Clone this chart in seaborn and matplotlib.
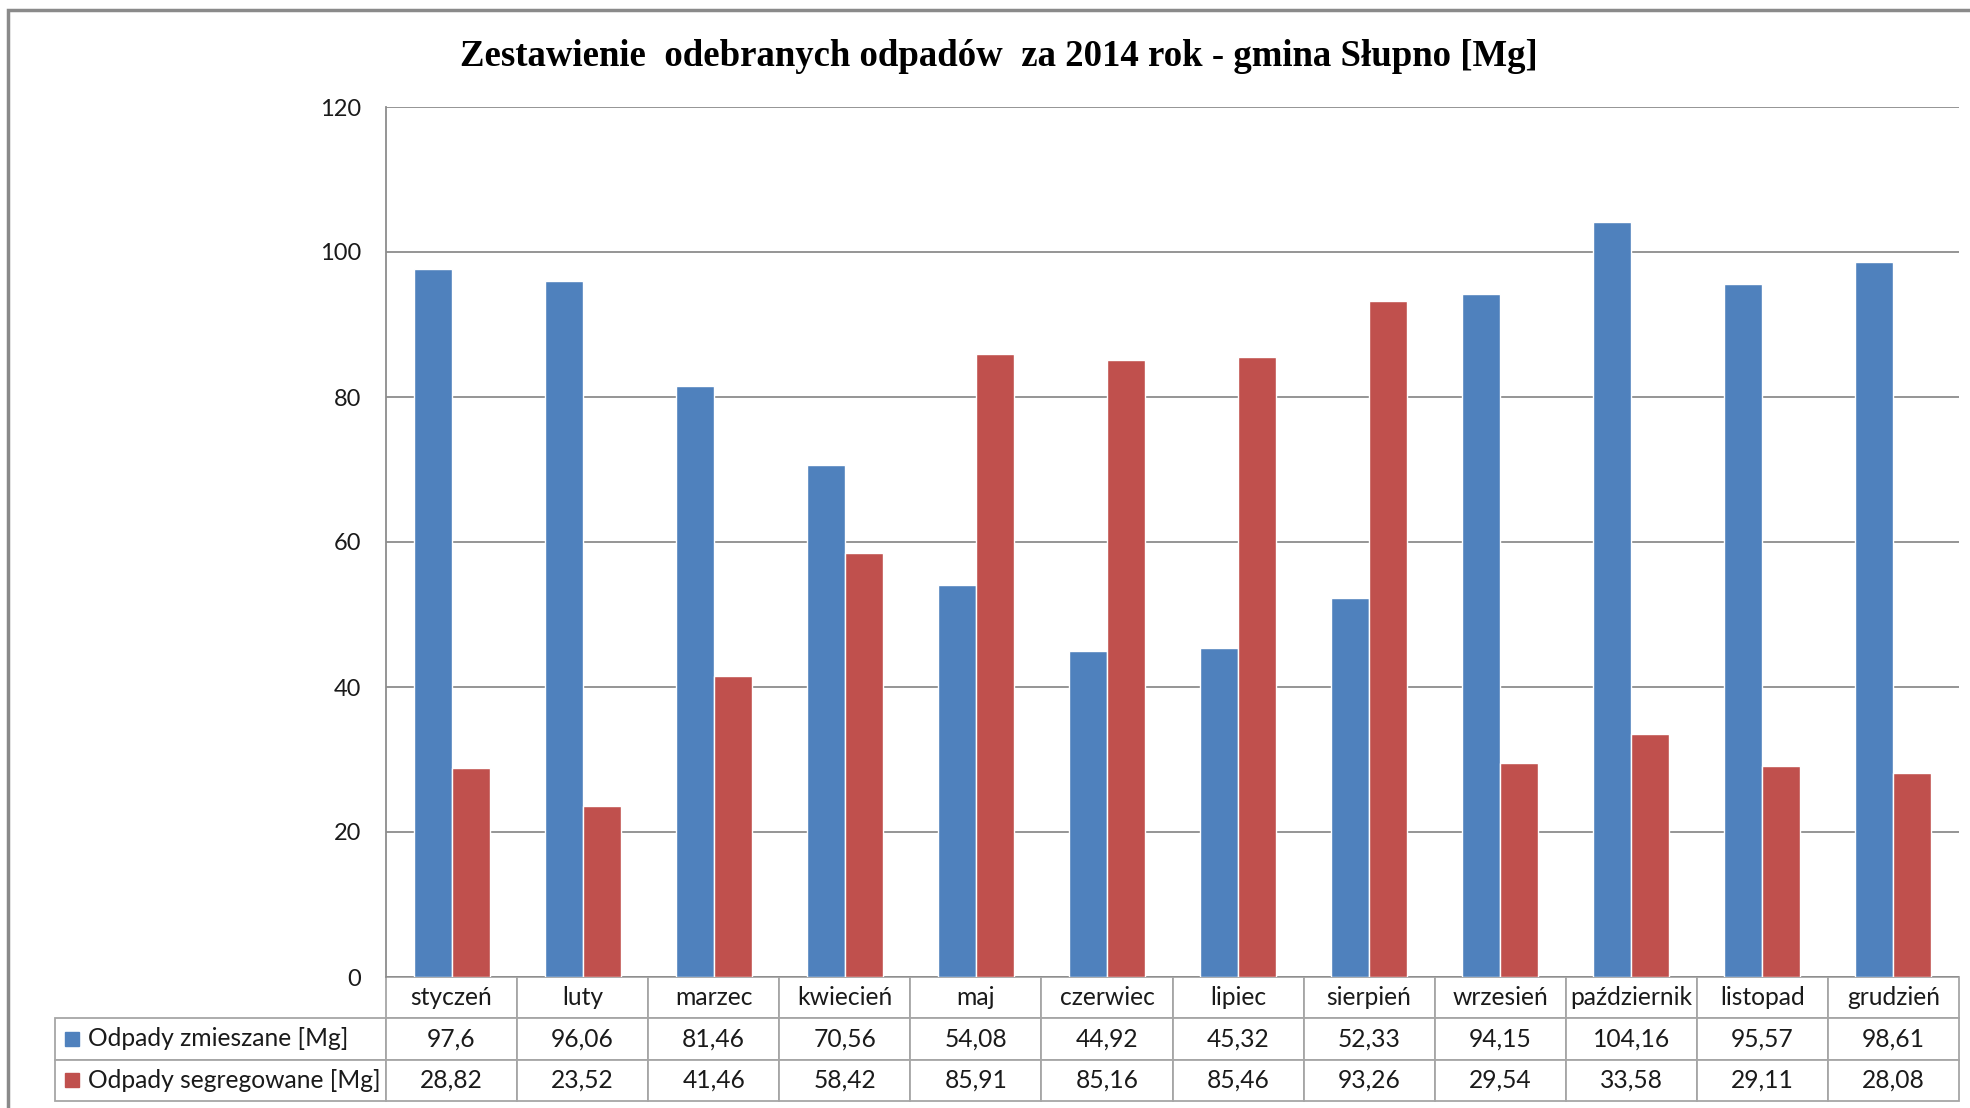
import matplotlib
matplotlib.use('Agg')
import matplotlib.pyplot as plt
from matplotlib.patches import Rectangle
import pandas as pd
import seaborn as sns

months = ['styczeń', 'luty', 'marzec', 'kwiecień', 'maj', 'czerwiec', 'lipiec',
          'sierpień', 'wrzesień', 'październik', 'listopad', 'grudzień']
mixed = [97.6, 96.06, 81.46, 70.56, 54.08, 44.92, 45.32, 52.33, 94.15, 104.16, 95.57, 98.61]
segregated = [28.82, 23.52, 41.46, 58.42, 85.91, 85.16, 85.46, 93.26, 29.54, 33.58, 29.11, 28.08]
series = ['Odpady zmieszane [Mg]', 'Odpady segregowane [Mg]']
colors = ['#4F81BD', '#C0504D']
yticks = [0, 20, 40, 60, 80, 100, 120]
title = 'Zestawienie  odebranych odpadów  za 2014 rok - gmina Słupno [Mg]'

df = pd.DataFrame({
    'month': months * 2,
    'value': mixed + segregated,
    'series': [series[0]] * len(months) + [series[1]] * len(months),
})

sns.set_style('white')
plt.rcParams['font.family'] = ['Lato', 'DejaVu Sans']
text_col = '#1a1a1a'
line_col = '#8c8c8c'

W, H = 1970, 1108
fig = plt.figure(figsize=(W / 100, H / 100), dpi=100)
# plot area in pixels: x 386..1959, y 107..977
ax = fig.add_axes([386 / W, 1 - 977 / H, 1573 / W, 870 / H])

sns.barplot(data=df, x='month', y='value', hue='series', hue_order=series,
            palette=colors, saturation=1, width=0.58, legend=False, ax=ax)

ax.set_xlim(-0.5, len(months) - 0.5)
ax.set_ylim(0, 120)
ax.set_yticks(yticks)
ax.set_xticklabels([])
ax.set_xlabel('')
ax.set_ylabel('')
ax.tick_params(axis='both', length=0)
ax.tick_params(axis='y', pad=18, labelsize=17, labelcolor=text_col)
ax.yaxis.grid(True, color=line_col, lw=1.3)
ax.set_axisbelow(True)
for s in ['top', 'right', 'bottom']:
    ax.spines[s].set_visible(False)
ax.spines['left'].set_color(line_col)
ax.spines['left'].set_linewidth(1.3)

# data table under the plot
fmt = lambda v: str(v).replace('.', ',')
cell_text = [[''] + months,
             [series[0]] + [fmt(v) for v in mixed],
             [series[1]] + [fmt(v) for v in segregated]]
tab_x0 = (55 - 386) / 1573
tab_h = (1101 - 977) / 870
tbl = ax.table(cellText=cell_text, colWidths=[331] + [1573 / 12] * 12,
               bbox=[tab_x0, -tab_h, 1 - tab_x0, tab_h], cellLoc='center')
tbl.auto_set_font_size(False)
tbl.set_fontsize(17.7)
for (r, c), cell in tbl.get_celld().items():
    cell.set_edgecolor('#a6a6a6')
    cell.set_linewidth(1.3)
    cell.get_text().set_color(text_col)
    if r == 0 and c == 0:
        cell.visible_edges = ''
    elif c == 0:
        cell.get_text().set_ha('left')

# legend keys inside the row label cells
row_h = tab_h / 3
sq_w, sq_h = 14 / 1573, 14 / 870
for i, col in enumerate(colors):
    yc = -row_h * (1.5 + i)
    ax.add_patch(Rectangle(((65 - 386) / 1573, yc - sq_h / 2), sq_w, sq_h,
                           transform=ax.transAxes, clip_on=False, color=col))

fig.text(999 / W, 1 - 57 / H, title, ha='center', va='center', fontsize=26.5,
         fontweight='bold', family='Liberation Serif', color='black')

# outer chart frame
fig.add_artist(Rectangle((8 / W, -0.05), 1.1, 1 - 10 / H + 0.05,
                         transform=fig.transFigure, fill=False,
                         ec='#8a8a8a', lw=2.5))

fig.savefig('out.png', dpi=100)
